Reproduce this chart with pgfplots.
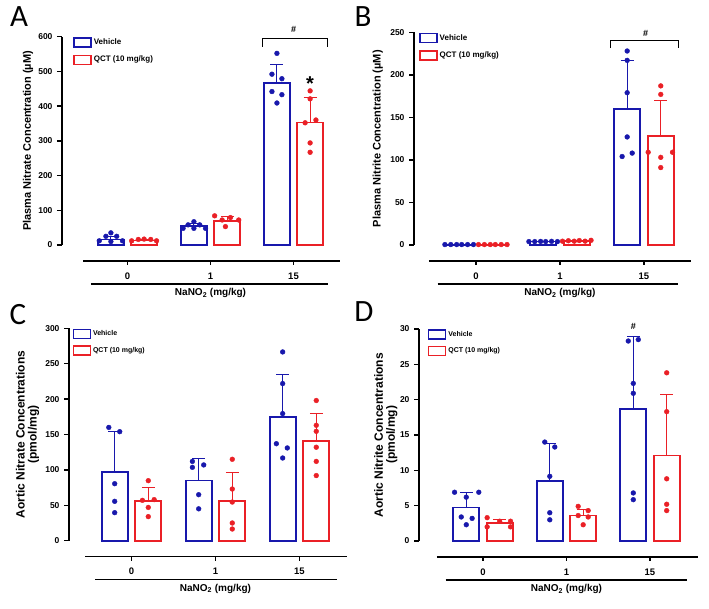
\documentclass[border=0pt]{standalone}
\usepackage{pgfplots}
\pgfplotsset{compat=1.18}
\usepackage{fontspec}
\setmainfont{Liberation Sans}
\newfontfamily\letterfont{Carlito}
\definecolor{vblue}{RGB}{24,24,172}
\definecolor{qred}{RGB}{234,32,38}
\newcommand{\fs}[1]{\fontsize{#1}{#1}\selectfont}
\pgfplotsset{
  panel/.style={
    scale only axis, anchor=south west, clip=false,
    axis x line=none, axis y line*=left,
    y axis line style={line width=1.5pt,-},
    ymin=0,
    tick align=outside, major tick length=5pt,
    ytick style={line width=1.5pt, black},
    yticklabel style={font=\bfseries\fs{8.5}, xshift=-1pt},
    /pgf/number format/assume math mode=true,
    legend image code/.code={\draw[##1, line width=1.5pt, fill=white] (0pt,-4.5pt) rectangle (17pt,4.5pt);},
    legend style={draw=none, fill=none, anchor=north west, inner sep=0pt, row sep=6pt, font=\bfseries\fs{8}, /tikz/every even column/.append style={column sep=2pt}},
    legend cell align=left,
    ylabel style={font=\bfseries\fs{11}, anchor=center},
  },
  vbar/.style={ybar, bar shift=0pt, bar width=26pt, draw=vblue, fill=white, line width=1.7pt, forget plot,
     error bars/.cd, y dir=plus, y explicit, error mark=|, error bar style={line width=1pt, vblue}, error mark options={line width=1pt, mark size=6.5pt, vblue}},
  qbar/.style={ybar, bar shift=0pt, bar width=26pt, draw=qred, fill=white, line width=1.7pt, forget plot,
     error bars/.cd, y dir=plus, y explicit, error mark=|, error bar style={line width=1pt, qred}, error mark options={line width=1pt, mark size=6.5pt, qred}},
  vdots/.style={only marks, mark=*, mark size=2.4pt, color=vblue, forget plot},
  qdots/.style={only marks, mark=*, mark size=2.4pt, color=qred, forget plot},
}
\newcommand{\xdeco}[4]{%
  \draw[line width=1.5pt] ([yshift=-16pt]axis cs:#1,0) -- ([yshift=-16pt]axis cs:#2,0);
  \draw[line width=1.2pt] ([yshift=-16pt]axis cs:0,0) -- ([yshift=-20pt]axis cs:0,0);
  \draw[line width=1.2pt] ([yshift=-16pt]axis cs:1,0) -- ([yshift=-20pt]axis cs:1,0);
  \draw[line width=1.2pt] ([yshift=-16pt]axis cs:2,0) -- ([yshift=-20pt]axis cs:2,0);
  \node[font=\bfseries\fs{9.5}] at ([yshift=-31pt]axis cs:0,0) {0};
  \node[font=\bfseries\fs{9.5}] at ([yshift=-31pt]axis cs:1,0) {1};
  \node[font=\bfseries\fs{9.5}] at ([yshift=-31pt]axis cs:2,0) {15};
  \draw[line width=1.5pt] ([yshift=-39pt]axis cs:#3,0) -- ([yshift=-39pt]axis cs:#4,0);
  \node[font=\bfseries\fs{10}] at ([yshift=-48pt]axis cs:1,0) {NaNO\textsubscript{2} (mg/kg)};
}
\begin{document}
\begin{tikzpicture}
\useasboundingbox (0pt,0pt) rectangle (709pt,609pt);
% ---------------- A
\begin{axis}[panel, at={(62pt,364pt)}, width=278pt, height=208.3pt,
  xmin=-0.789, xmax=2.56, ymax=600, ytick={0,100,...,600},
  ylabel={Plasma Nitrate Concentration (µM)},
  ylabel style={at={(axis description cs:-0.122,0.5)}},
  legend style={at={(axis description cs:0.04,1)}}]
\addlegendimage{vblue}\addlegendentry{Vehicle}
\addlegendimage{qred}\addlegendentry{QCT (10 mg/kg)}
\addplot[vbar] coordinates {(-0.2,16) +- (0,9) (0.8,55) +- (0,7) (1.8,466) +- (0,54)};
\addplot[qbar] coordinates {(0.2,13) +- (0,3) (1.2,70) +- (0,12) (2.2,353) +- (0,72)};
\addplot[vdots] coordinates {(-0.2,35) (-0.26,25) (-0.13,25) (-0.34,12) (-0.2,10) (-0.06,12)
 (0.8,67) (0.73,58) (0.87,58) (0.67,48) (0.8,48) (0.94,48)
 (1.8,552) (1.74,492) (1.86,479) (1.74,442) (1.86,433) (1.8,409)};
\addplot[qdots] coordinates {(0.05,12) (0.13,16) (0.2,17) (0.28,16) (0.35,12)
 (1.05,84) (1.14,72) (1.24,79) (1.34,72) (1.18,53)
 (2.2,444) (2.2,421) (2.14,352) (2.27,360) (2.2,294) (2.2,267)};
\draw[line width=1.3pt] (axis cs:1.627,571) -- (axis cs:1.627,594) -- (axis cs:2.41,594) -- (axis cs:2.41,571);
\node[font=\bfseries\fs{9}] at (axis cs:2.0,622) {\#};
\node[font=\bfseries\fs{20}] at (axis cs:2.2,465) {*};
\xdeco{-0.536}{2.554}{-0.44}{2.41}
\end{axis}
% ---------------- B
\begin{axis}[panel, at={(414pt,364pt)}, width=278pt, height=212.7pt,
  xmin=-0.738, xmax=2.572, ymax=250, ytick={0,50,...,250},
  ylabel={Plasma Nitrite Concentration (µM)},
  ylabel style={at={(axis description cs:-0.13,0.5)}},
  legend style={at={(axis description cs:0.018,1)}}]
\addlegendimage{vblue}\addlegendentry{Vehicle}
\addlegendimage{qred}\addlegendentry{QCT (10 mg/kg)}
\addplot[vbar] coordinates {(-0.2,0.5) +- (0,0.2) (0.8,4) +- (0,0.5) (1.8,160) +- (0,57)};
\addplot[qbar] coordinates {(0.2,0.5) +- (0,0.2) (1.2,4.5) +- (0,0.6) (2.2,128) +- (0,42)};
\addplot[vdots] coordinates {(-0.37,0.5) (-0.3,0.5) (-0.23,0.5) (-0.17,0.5) (-0.1,0.5) (-0.03,0.5)
 (0.63,4) (0.7,4) (0.77,4.2) (0.83,4) (0.9,4.3) (0.97,4)
 (1.8,228) (1.8,217) (1.8,179) (1.8,127) (1.74,104) (1.86,108)};
\addplot[qdots] coordinates {(0.03,0.5) (0.1,0.5) (0.17,0.5) (0.23,0.5) (0.3,0.5) (0.37,0.5)
 (1.03,4.5) (1.1,5) (1.17,4.5) (1.23,5.2) (1.3,4.5) (1.37,5.5)
 (2.2,187) (2.2,177) (2.05,109) (2.34,109) (2.2,103) (2.2,91)};
\draw[line width=1.3pt] (axis cs:1.6,231.5) -- (axis cs:1.6,240) -- (axis cs:2.41,240) -- (axis cs:2.41,231.5);
\node[font=\bfseries\fs{9}] at (axis cs:2.02,249) {\#};
\xdeco{-0.56}{2.565}{-0.456}{2.41}
\end{axis}
% ---------------- C
\begin{axis}[panel, at={(69pt,68.3pt)}, width=278pt, height=212.4pt,
  xmin=-0.744, xmax=2.566, ymax=300, ytick={0,50,...,300},
  ylabel={Aortic Nitrate Concentrations\\(pmol/mg)},
  ylabel style={at={(axis description cs:-0.149,0.5)}, align=center, font=\bfseries\fs{12}},
  legend style={at={(axis description cs:0.012,1)}, font=\bfseries\fs{7}}]
\addlegendimage{vblue}\addlegendentry{Vehicle}
\addlegendimage{qred}\addlegendentry{QCT (10 mg/kg)}
\addplot[vbar] coordinates {(-0.2,97) +- (0,56.6) (0.8,85) +- (0,31) (1.8,174.8) +- (0,59.8)};
\addplot[qbar] coordinates {(0.2,55.6) +- (0,19.4) (1.2,56.5) +- (0,40) (2.2,141.3) +- (0,38.7)};
\addplot[vdots] coordinates {(-0.27,160) (-0.14,154) (-0.2,80.5) (-0.2,55.6) (-0.2,39.6)
 (0.725,112) (0.86,107) (0.725,103.6) (0.8,65) (0.8,45)
 (1.8,266.6) (1.8,221.9) (1.8,179.5) (1.725,137) (1.855,131) (1.8,116.8)};
\addplot[qdots] coordinates {(0.2,84.8) (0.13,57) (0.27,58) (0.2,47) (0.2,34)
 (1.2,115) (1.2,73) (1.2,54.6) (1.2,25) (1.2,16.5)
 (2.2,198) (2.2,163) (2.2,154.5) (2.2,132) (2.2,112) (2.2,92)};
\xdeco{-0.553}{2.565}{-0.43}{2.45}
\end{axis}
% ---------------- D
\begin{axis}[panel, at={(419pt,68pt)}, width=279pt, height=212pt,
  xmin=-0.766, xmax=2.575, ymax=30, ytick={0,5,...,30},
  ylabel={Aortic Nitrite Concentrations\\(pmol/mg)},
  ylabel style={at={(axis description cs:-0.119,0.5)}, align=center, font=\bfseries\fs{12}},
  legend style={at={(axis description cs:0.031,1)}, font=\bfseries\fs{7}}]
\addlegendimage{vblue}\addlegendentry{Vehicle}
\addlegendimage{qred}\addlegendentry{QCT (10 mg/kg)}
\addplot[vbar] coordinates {(-0.2,4.76) +- (0,2.1) (0.8,8.5) +- (0,5.3) (1.8,18.7) +- (0,10.3)};
\addplot[qbar] coordinates {(0.2,2.5) +- (0,0.6) (1.2,3.6) +- (0,0.9) (2.2,12.1) +- (0,8.6)};
\addplot[vdots] coordinates {(-0.34,6.9) (-0.05,6.9) (-0.2,6.2) (-0.26,3.4) (-0.13,3.2) (-0.2,2.3)
 (0.74,14) (0.86,13.3) (0.8,9.15) (0.8,4.0) (0.8,3.0)
 (1.74,28.3) (1.86,28.5) (1.8,22.3) (1.8,20.9) (1.8,6.8) (1.8,5.85)};
\addplot[qdots] coordinates {(0.05,3.3) (0.2,2.8) (0.33,2.8) (0.05,2.0) (0.33,2.0)
 (1.14,4.9) (1.26,4.3) (1.14,3.6) (1.26,3.4) (1.2,2.3)
 (2.2,23.8) (2.2,18.3) (2.2,8.8) (2.2,5.2) (2.2,4.3)};
\node[font=\bfseries\fs{9}] at (axis cs:1.8,30.4) {\#};
\xdeco{-0.551}{2.575}{-0.447}{2.44}
\end{axis}
% panel letters
\node[font=\letterfont\fs{31}] at (19pt,592pt) {A};
\node[font=\letterfont\fs{31}] at (363pt,592pt) {B};
\node[font=\letterfont\fs{31}] at (18pt,294pt) {C};
\node[font=\letterfont\fs{31}] at (364pt,297pt) {D};
\end{tikzpicture}
\end{document}
